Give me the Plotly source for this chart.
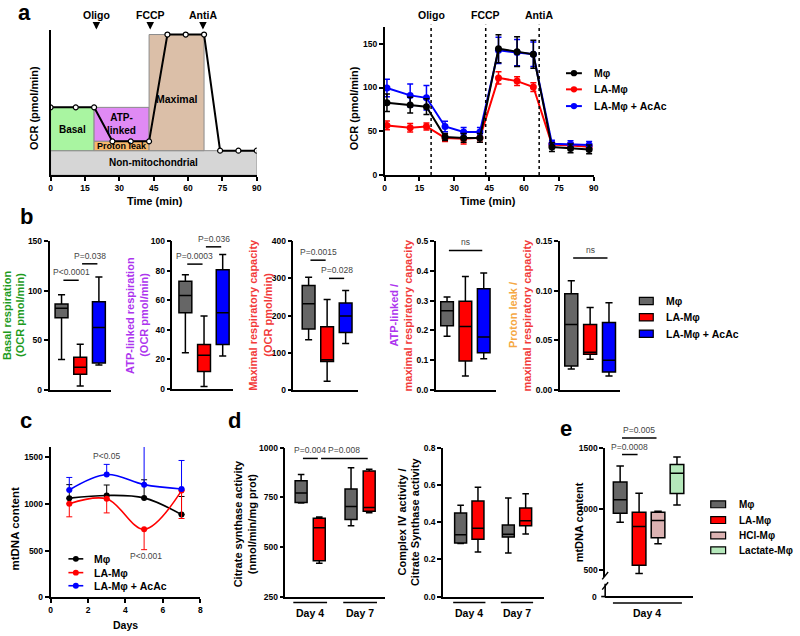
import plotly.graph_objects as go

FONT = "Liberation Sans"
W, H = 800, 636

# ---------------- data: panel a ----------------
# schematic of the stress test (arbitrary OCR units)
schem_t = [0, 11, 19, 27, 35, 43, 51, 59, 67, 74, 82, 90]
schem_ocr = [6.9, 6.9, 6.9, 3.45, 3.45, 3.45, 14.3, 14.3, 14.3, 2.5, 2.5, 2.5]
inj_names = ["Oligo", "FCCP", "AntiA"]
inj_t = [20, 43.5, 66.5]

# measured OCR, mean and SEM
ocr_t = [1, 11, 18, 26, 34, 41, 49, 57, 64, 72, 80, 88]
ocr_mac = [82.6, 79.9, 78.1, 43.5, 42.4, 42.4, 144.4, 141.0, 138.0, 31.9, 30.4, 29.2]
ocr_mac_sem = [10, 9, 9, 4, 5, 5, 16, 17, 16, 5, 5, 5]
ocr_la = [56.7, 54.0, 55.5, 42.4, 41.5, 42.5, 111.0, 107.3, 100.5, 34.9, 33.8, 32.3]
ocr_la_sem = [5, 5, 4, 4, 6, 5, 7, 5, 5, 3, 3, 3]
ocr_acac = [99.5, 91.0, 88.2, 55.5, 49.2, 49.2, 142.5, 140.0, 138.0, 35.7, 35.0, 34.3]
ocr_acac_sem = [10, 13, 14, 6, 5, 5, 15, 15, 14, 4, 4, 4]

# ---------------- data: panel b ----------------
grp_names = ["Mφ", "LA-Mφ", "LA-Mφ + AcAc"]
grp_colors = ["#666666", "#ff0000", "#0000ff"]
# box stats per group: [min, q1, median, q3, max]
basal_resp = [[30.7, 72.7, 82.3, 86.7, 96.0], [4.0, 15.7, 22.7, 33.0, 46.0], [25.0, 27.0, 63.0, 89.0, 114.0]]
atp_resp = [[24.4, 51.5, 63.3, 72.9, 77.3], [1.6, 11.8, 22.7, 30.0, 49.3], [22.2, 30.0, 51.5, 80.7, 91.0]]
max_resp = [[135, 164, 232, 281, 303], [23, 76, 81, 170, 243], [124.5, 154.5, 199, 234, 267.5]]
atp_ratio = [[0.180, 0.216, 0.266, 0.296, 0.312], [0.047, 0.097, 0.213, 0.298, 0.381], [0.105, 0.125, 0.178, 0.340, 0.393]]
leak_ratio = [[0.021, 0.024, 0.066, 0.097, 0.110], [0.031, 0.036, 0.038, 0.066, 0.083], [0.014, 0.018, 0.030, 0.068, 0.088]]

# ---------------- data: panel c ----------------
c_days = [1, 3, 5, 7]
mt_mac = [1062, 1091, 1065, 886]
mt_mac_err = [145, 112, 194, 194]
mt_la = [1002, 1055, 728, 1143]
mt_la_err = [140, 151, 218, 299]
mt_acac = [1150, 1315, 1207, 1160]
mt_acac_err = [134, 109, 435, 306]

# ---------------- data: panel d ----------------
d_days = ["Day 4", "Day 7"]
cs_mac = [[722, 725, 773, 834, 866], [607, 639, 705, 793, 900]]
cs_la = [[418, 431, 597, 645, 652], [673, 681, 699, 884, 892]]
c4_mac = [[0.285, 0.288, 0.332, 0.450, 0.491], [0.235, 0.320, 0.335, 0.385, 0.530]]
c4_la = [[0.240, 0.309, 0.367, 0.514, 0.588], [0.337, 0.381, 0.408, 0.477, 0.553]]

# ---------------- data: panel e ----------------
e_names = ["Mφ", "LA-Mφ", "HCl-Mφ", "Lactate-Mφ"]
e_colors = ["#666666", "#ff0000", "#dbb2b2", "#b5e8bb"]
e_mt = [[892, 965, 1076, 1222, 1352], [473, 541, 857, 973, 1130],
        [716, 765, 906, 973, 981], [1032, 1127, 1292, 1365, 1425]]

GREEN, PURPLE, RED, ORANGE = "#1e9b1e", "#ad35ee", "#f23a3a", "#f5a844"

# ---------------- layout geometry (pixels) ----------------
panels = {
    "aL": dict(xpx=(49, 257), ypx=(25, 173), xr=(0, 90), yr=(0, 14.8)),
    "aR": dict(xpx=(386, 597), ypx=(22.5, 172.7), xr=(0, 90), yr=(0, 169)),
    "b1": dict(xpx=(48, 110), ypx=(240, 391), xr=(0.36, 3.65), yr=(0, 150)),
    "b2": dict(xpx=(172, 233), ypx=(240, 390), xr=(0.31, 3.55), yr=(0, 100)),
    "b3": dict(xpx=(294, 359), ypx=(240, 391), xr=(0.18, 3.66), yr=(0, 400)),
    "b4": dict(xpx=(437.7, 498), ypx=(240, 391), xr=(0.39, 3.65), yr=(0, 0.5)),
    "b5": dict(xpx=(562.7, 623), ypx=(240, 391), xr=(0.39, 3.56), yr=(0, 0.15)),
    "c": dict(xpx=(49, 200), ypx=(449, 601.7), xr=(0, 8), yr=(0, 1611)),
    "d1": dict(xpx=(286, 386), ypx=(450, 601), xr=(0.14, 5.6), yr=(250, 1000)),
    "d2": dict(xpx=(445, 547), ypx=(450, 601), xr=(-0.01, 5.82), yr=(0, 0.8)),
    "e": dict(xpx=(608.5, 697), ypx=(450, 581), xr=(0.21, 4.84), yr=(445, 1500)),
}
order = list(panels)


def axid(key):
    i = order.index(key) + 1
    s = "" if i == 1 else str(i)
    return "x" + s, "y" + s


def to_px(key, x, y):
    g = panels[key]
    xp = g["xpx"][0] + (x - g["xr"][0]) / (g["xr"][1] - g["xr"][0]) * (g["xpx"][1] - g["xpx"][0])
    yp = g["ypx"][1] - (y - g["yr"][0]) / (g["yr"][1] - g["yr"][0]) * (g["ypx"][1] - g["ypx"][0])
    return xp, yp


shapes, annos = [], []


def text(xp, yp, s, size=11, color="black", bold=True, angle=0, xanchor="center", yanchor="middle"):
    annos.append(dict(x=xp / W, y=1 - yp / H, xref="paper", yref="paper",
                      text=f"<b>{s}</b>" if bold else s, showarrow=False, textangle=angle,
                      xanchor=xanchor, yanchor=yanchor, font=dict(family=FONT, size=size, color=color)))


def pline(x0, y0, x1, y1, color="black", width=1.5, dash="solid"):
    shapes.append(dict(type="line", xref="paper", yref="paper", x0=x0 / W, y0=1 - y0 / H,
                       x1=x1 / W, y1=1 - y1 / H, line=dict(color=color, width=width, dash=dash)))


def prect(x0, y0, x1, y1, fill, lw=1.2):
    shapes.append(dict(type="rect", xref="paper", yref="paper", x0=x0 / W, y0=1 - y1 / H,
                       x1=x1 / W, y1=1 - y0 / H, fillcolor=fill, line=dict(color="black", width=lw)))


def pcircle(xc, yc, r, color):
    shapes.append(dict(type="circle", xref="paper", yref="paper", x0=(xc - r) / W, x1=(xc + r) / W,
                       y0=1 - (yc + r) / H, y1=1 - (yc - r) / H, fillcolor=color, line=dict(width=0)))


def sig(key, i, j, y, label):
    x0, yp = to_px(key, i + 0.1, y)
    x1, _ = to_px(key, j - 0.08, y)
    pline(x0, yp, x1, yp, width=1.5)
    text((x0 + x1) / 2, yp - 1, label, size=8.5, color="#444444", bold=False, yanchor="bottom")


fig = go.Figure()


def box(key, pos, s, color, width):
    xa, ya = axid(key)
    fig.add_trace(go.Box(x=[pos], lowerfence=[s[0]], q1=[s[1]], median=[s[2]], q3=[s[3]],
                         upperfence=[s[4]], orientation="v", fillcolor=color,
                         line=dict(color="black", width=1.5), width=width, whiskerwidth=0.55,
                         boxpoints=False, hoverinfo="skip", showlegend=False, xaxis=xa, yaxis=ya))


# ---------------- a: schematic ----------------
xa, ya = axid("aL")
basal, leak, maxi, nonmito = schem_ocr[0], schem_ocr[3], schem_ocr[6], schem_ocr[9]
t1, t2, t3 = schem_t[2], schem_t[5], schem_t[8]
regions = [
    (schem_t[0], schem_t[-1], 0, nonmito, "#d6d6d6", "Non-mitochondrial", 10, None),
    (schem_t[0], t1, nonmito, basal, "#a9f5a1", "Basal", 10, None),
    (t1, t2, leak, basal, "#e08af4", "ATP-<br>linked", 10, None),
    (t1, t2, nonmito, leak, "#f9b86c", "Proton leak", 9, None),
    (t2, t3, nonmito, maxi, "#dbbfa8", "Maximal", 10.5, 7.7),
]
for x0, x1, y0, y1, fill, lab, fs, ylab in regions:
    shapes.append(dict(type="rect", xref=xa, yref=ya, x0=x0, x1=x1, y0=y0, y1=y1, layer="below",
                       fillcolor=fill, line=dict(color="#8c8c8c", width=1)))
    annos.append(dict(x=(x0 + x1) / 2, y=ylab if ylab else (y0 + y1) / 2, xref=xa, yref=ya,
                      text=f"<b>{lab}</b>", showarrow=False,
                      font=dict(family=FONT, size=fs, color="black")))
fig.add_trace(go.Scatter(x=schem_t, y=schem_ocr, mode="lines+markers", xaxis=xa, yaxis=ya,
                         line=dict(color="black", width=2),
                         marker=dict(size=5, color="white", line=dict(color="black", width=1.2)),
                         showlegend=False, hoverinfo="skip"))
for name, t in zip(inj_names, inj_t):
    annos.append(dict(x=t, y=1 - 25 / H, xref=xa, yref="paper", text=f"<b>{name}</b>",
                      showarrow=True, ax=0, ay=-15, arrowhead=2, arrowsize=1, arrowwidth=1.5,
                      arrowcolor="black", font=dict(family=FONT, size=10.5, color="black")))

# ---------------- a: measured OCR ----------------
xa, ya = axid("aR")
for vals, sem, col in [(ocr_la, ocr_la_sem, grp_colors[1]), (ocr_acac, ocr_acac_sem, grp_colors[2]),
                       (ocr_mac, ocr_mac_sem, "black")]:
    fig.add_trace(go.Scatter(x=ocr_t, y=vals, mode="lines+markers", xaxis=xa, yaxis=ya,
                             line=dict(color=col, width=2), marker=dict(size=7, color=col),
                             error_y=dict(type="data", array=sem, color=col, thickness=1.5, width=3),
                             showlegend=False, hoverinfo="skip"))
for name, t in zip(inj_names, inj_t):
    xp, _ = to_px("aR", t, 0)
    pline(xp, 172.7, xp, 20, width=1.5, dash="dot")
    text(xp, 10, name, size=10.5)
for k, (name, col) in enumerate(zip(grp_names, ["black", grp_colors[1], grp_colors[2]])):
    y = [69.3, 85.7, 102.7][k]
    pline(569, y, 585, y, color=col, width=2)
    pcircle(577, y, 3.2, col)
    text(595, y, name, size=10.5, xanchor="left")

# ---------------- b ----------------
b_keys = ["b1", "b2", "b3", "b4", "b5"]
b_stats = [basal_resp, atp_resp, max_resp, atp_ratio, leak_ratio]
for key, stats in zip(b_keys, b_stats):
    for gi, (s, col) in enumerate(zip(stats, grp_colors)):
        box(key, gi + 1, s, col, 0.69)

b_sig = [("b1", 1, 2, 110.6, "P<0.0001"), ("b1", 2, 3, 127.2, "P=0.038"),
         ("b2", 1, 2, 84.5, "P=0.0003"), ("b2", 2, 3, 96.2, "P=0.036"),
         ("b3", 1, 2, 349, "P=0.0015"), ("b3", 2, 3, 300, "P=0.028"),
         ("b4", 1, 3, 0.469, "ns"), ("b5", 1, 3, 0.133, "ns")]
for s in b_sig:
    sig(*s)

b_ylab = [("Basal respiration", GREEN, "(OCR pmol/min)", GREEN, 5, 18),
          ("ATP-linked respiration", PURPLE, "(OCR pmol/min)", PURPLE, 129, 143),
          ("Maximal respiratory capacity", RED, "(OCR pmol/min)", RED, 253, 268),
          ("ATP-linked /", PURPLE, "maximal respiratory capacity", RED, 396, 410),
          ("Proton leak /", ORANGE, "maximal respiratory capacity", RED, 515.5, 530)]
for l1, c1, l2, c2, x1, x2 in b_ylab:
    text(x1, 315, l1, color=c1, angle=-90)
    text(x2, 315, l2, color=c2, angle=-90)

for k, (name, col) in enumerate(zip(grp_names, grp_colors)):
    y = [300.7, 317.3, 334][k]
    prect(643, y - 3.7, 657, y + 3.7, col)
    text(668, y, name, size=10.5, xanchor="left")

# ---------------- c ----------------
xa, ya = axid("c")
c_series = [(mt_mac, mt_mac_err, "black", True), (mt_la, mt_la_err, grp_colors[1], False),
            (mt_acac, mt_acac_err, grp_colors[2], True)]
for vals, err, col, up in c_series:
    zeros = [0] * len(err)
    fig.add_trace(go.Scatter(x=c_days, y=vals, mode="lines+markers", xaxis=xa, yaxis=ya,
                             line=dict(color=col, width=1.6, shape="spline"), marker=dict(size=6, color=col),
                             error_y=dict(type="data", symmetric=False, array=err if up else zeros,
                                          arrayminus=zeros if up else err, color=col, thickness=1, width=3),
                             cliponaxis=False, showlegend=False, hoverinfo="skip"))
text(105.7, 458.7, "P<0.05", size=8.5, color="#444444", bold=False)
text(145.7, 559.3, "P<0.001", size=8.5, color="#444444", bold=False)
for k, (name, col) in enumerate(zip(grp_names, ["black", grp_colors[1], grp_colors[2]])):
    y = [562.7, 576.7, 590][k]
    pline(67, y, 82, y, color=col, width=1.6)
    pcircle(74.5, y, 3, col)
    text(90.7, y, name, size=10.5, xanchor="left")

# ---------------- d ----------------
for key, mac, la, w in [("d1", cs_mac, cs_la, 0.66), ("d2", c4_mac, c4_la, 0.69)]:
    for di in range(len(d_days)):
        box(key, 1 + di * 2.75, mac[di], grp_colors[0], w)
        box(key, 2 + di * 2.75, la[di], grp_colors[1], w)
    for di, day in enumerate(d_days):
        c = 1.5 + di * 2.75
        x0, _ = to_px(key, c - 0.93, 0)
        x1, _ = to_px(key, c + 0.93, 0)
        pline(x0, 607, x1, 607, width=1.6)
        text((x0 + x1) / 2, 618, day, size=10.5)
sig("d1", 1, 2, 947, "P=0.004")
sig("d1", 2, 4.75, 947, "P=0.008")

# ---------------- e ----------------
for gi, (s, col) in enumerate(zip(e_mt, e_colors)):
    box("e", gi + 1, s, col, 0.72)
sig("e", 1, 2, 1446, "P=0.0008")
sig("e", 1, 3, 1581, "P=0.005")
x0, _ = to_px("e", 0.62, 0)
x1, _ = to_px("e", 4.26, 0)
pline(x0, 607.5, x1, 607.5, width=1.6)
text((x0 + x1) / 2, 618, d_days[0], size=10.5)
# broken y axis: break marks and the short lower segment holding the 0 tick
pline(605.5, 583.5, 611.5, 576, width=1.4)
pline(605.5, 594, 611.5, 586.5, width=1.4)
pline(608.5, 588, 608.5, 601.8, width=1.6)
pline(604.5, 601, 608.5, 601, width=1.6)
text(602.5, 601, "0", size=8.5, xanchor="right")
for k, (name, col) in enumerate(zip(e_names, e_colors)):
    y = [507.3, 523.3, 539, 554][k]
    prect(715, y - 3.5, 730, y + 3.5, col)
    text(741.7, y, name, size=10, xanchor="left")

# ---------------- axis titles and panel letters ----------------
text(33, 105, "OCR (pmol/min)", angle=-90)
text(355, 105, "OCR (pmol/min)", angle=-90)
text(154, 199, "Time (min)")
text(490, 199, "Time (min)")
text(13, 532, "mtDNA content", size=11.5, angle=-90)
text(125, 630, "Days", size=10.5)
text(237.7, 527, "Citrate synthase activity", angle=-90)
text(251.7, 527, "(nmol/min/mg prot)", angle=-90)
text(403.3, 525, "Complex IV activity /", angle=-90)
text(416, 525, "Citrate Synthase activity", angle=-90)
text(581.7, 526, "mtDNA content", angle=-90)
for letter, xp, yp in [("a", 23, 8), ("b", 24.5, 215), ("c", 24.5, 422), ("d", 235, 422), ("e", 568.5, 430)]:
    text(xp, yp, letter, size=22)

# ---------------- axes ----------------
base = dict(showline=True, linecolor="black", linewidth=1.6, showgrid=False, zeroline=False,
            ticks="outside", ticklen=4, tickwidth=1.6, tickcolor="black", fixedrange=True,
            tickfont=dict(family=FONT, size=8.5, color="black", weight="bold"))
noticks = dict(ticks="", showticklabels=False)
yticks = {
    "aL": None, "aR": [0, 50, 100, 150], "b1": [0, 50, 100, 150], "b2": [0, 20, 40, 60, 80, 100],
    "b3": [0, 100, 200, 300, 400], "b4": [0, 0.1, 0.2, 0.3, 0.4, 0.5], "b5": [0, 0.05, 0.1, 0.15],
    "c": [0, 500, 1000, 1500], "d1": [250, 500, 750, 1000], "d2": [0, 0.2, 0.4, 0.6, 0.8],
    "e": [500, 1000, 1500],
}
yfmt = {"b4": ".1f", "b5": ".2f", "d2": ".1f"}
xticks = {"aL": list(range(0, 91, 15)), "aR": list(range(0, 91, 15)), "c": [0, 2, 4, 6, 8]}

layout = {}
for key, g in panels.items():
    xa, ya = axid(key)
    xs = dict(base, domain=[g["xpx"][0] / W, g["xpx"][1] / W], range=list(g["xr"]), anchor=ya)
    ys = dict(base, domain=[1 - g["ypx"][1] / H, 1 - g["ypx"][0] / H], range=list(g["yr"]), anchor=xa)
    if key in xticks:
        xs.update(tickvals=xticks[key])
    else:
        xs.update(noticks)
    if yticks[key] is None:
        ys.update(noticks)
    else:
        ys.update(tickvals=yticks[key], tickformat=yfmt.get(key, ""))
    layout["xaxis" + xa[1:]] = xs
    layout["yaxis" + ya[1:]] = ys

# x axis of e sits below the axis break, at the 0 level
ex, _ = axid("e")
layout["xaxis" + ex[1:]].update(anchor="free", position=1 - 601 / H)

fig.update_layout(
    width=W, height=H, margin=dict(l=0, r=0, t=0, b=0),
    paper_bgcolor="white", plot_bgcolor="white", showlegend=False,
    font=dict(family=FONT, color="black"),
    shapes=shapes, annotations=annos, **layout,
)

# the page body has a default 8px margin; drop it so the 800x636 figure fills the window
fig.write_html("out.html", config={"displayModeBar": False},
               post_script="document.body.style.margin='0px';")
